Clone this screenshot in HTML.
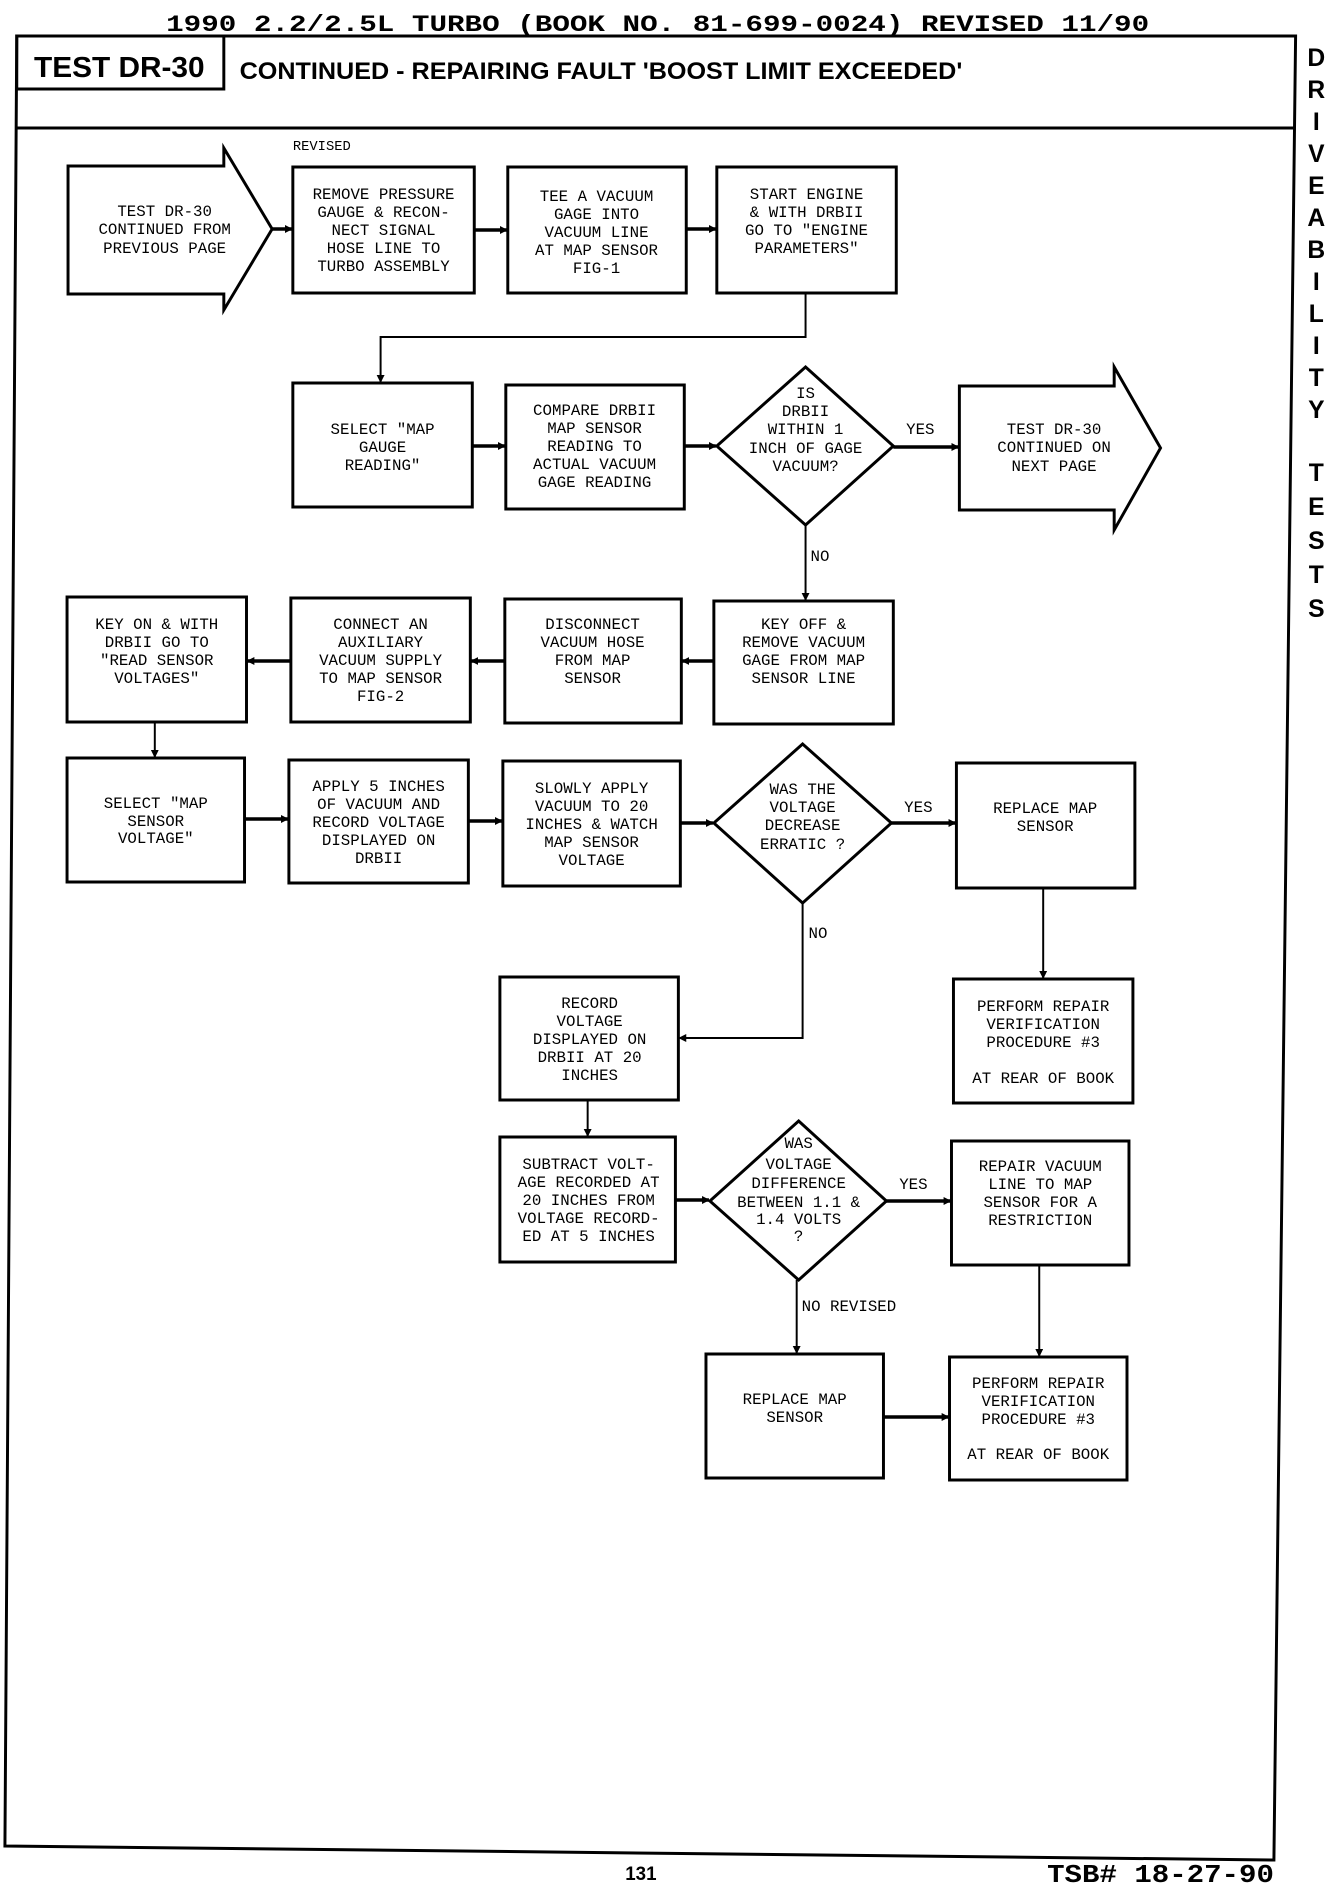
<!DOCTYPE html>
<html><head><meta charset="utf-8"><style>
html,body{margin:0;padding:0;background:#fff;}
svg{display:block;}
.t{font-family:"Liberation Mono",monospace;font-size:16px;fill:#000;text-anchor:middle;}
.b{fill:none;stroke:#000;stroke-width:3;}
.c{fill:none;stroke:#000;stroke-width:3.5;}
.v{fill:none;stroke:#000;stroke-width:2;}
.side{font-family:"Liberation Sans",sans-serif;font-weight:bold;font-size:25px;text-anchor:middle;fill:#000;}
</style></head><body>
<svg width="1344" height="1892" viewBox="0 0 1344 1892" xmlns="http://www.w3.org/2000/svg">
<defs>
<marker id="a" markerWidth="8" markerHeight="8" refX="7" refY="4" orient="auto" markerUnits="userSpaceOnUse"><path d="M0,0 L8,4 L0,8 z" fill="#000"/></marker>
</defs>
<g transform="scale(0.986 1)">
<text x="667" y="31" font-family="Liberation Mono,monospace" font-weight="bold" font-size="23" text-anchor="middle" textLength="997" lengthAdjust="spacingAndGlyphs">1990 2.2/2.5L TURBO (BOOK NO. 81-699-0024) REVISED 11/90</text>
<polygon points="17,36 1314,36 1292,1860 5,1846" fill="none" stroke="#000" stroke-width="3"/>
<rect x="17" y="36" width="210" height="53" class="b"/>
<line x1="17" y1="128" x2="1312" y2="128" stroke="#000" stroke-width="3"/>
<text x="121" y="77" font-family="Liberation Sans,sans-serif" font-weight="bold" font-size="29" text-anchor="middle" textLength="173" lengthAdjust="spacingAndGlyphs">TEST DR-30</text>
<text x="243" y="79" font-family="Liberation Sans,sans-serif" font-weight="bold" font-size="24" textLength="733" lengthAdjust="spacingAndGlyphs">CONTINUED - REPAIRING FAULT 'BOOST LIMIT EXCEEDED'</text>
<g class="side">
<text x="1335" y="66">D</text><text x="1335" y="98">R</text><text x="1335" y="130">I</text><text x="1335" y="162">V</text><text x="1335" y="194">E</text><text x="1335" y="226">A</text><text x="1335" y="258">B</text><text x="1335" y="290">I</text><text x="1335" y="322">L</text><text x="1335" y="354">I</text><text x="1335" y="386">T</text><text x="1335" y="418">Y</text>
<text x="1335" y="481">T</text><text x="1335" y="515">E</text><text x="1335" y="549">S</text><text x="1335" y="583">T</text><text x="1335" y="617">S</text>
</g>
<text x="297" y="150" class="t" style="text-anchor:start;font-size:14px">REVISED</text>

<path class="b" d="M69,166 L227,166 L227,148 L276,229 L227,310 L227,294 L69,294 Z"/>
<rect class="b" x="297" y="167" width="184" height="126"/>
<rect class="b" x="515" y="167" width="181" height="126"/>
<rect class="b" x="727" y="167" width="182" height="126"/>
<rect class="b" x="297" y="383" width="182" height="124"/>
<rect class="b" x="513" y="385" width="181" height="124"/>
<polygon class="b" points="817,367 906,446 817,525 727,446"/>
<path class="b" d="M973,386 L1130,386 L1130,367 L1177,448 L1130,530 L1130,510 L973,510 Z"/>
<rect class="b" x="68" y="597" width="182" height="125"/>
<rect class="b" x="295" y="598" width="182" height="124"/>
<rect class="b" x="512" y="599" width="179" height="124"/>
<rect class="b" x="724" y="601" width="182" height="123"/>
<rect class="b" x="68" y="758" width="180" height="124"/>
<rect class="b" x="293" y="760" width="182" height="123"/>
<rect class="b" x="510" y="761" width="180" height="125"/>
<polygon class="b" points="814,744 904,823 814,903 724,823"/>
<rect class="b" x="970" y="763" width="181" height="125"/>
<rect class="b" x="507" y="977" width="181" height="123"/>
<rect class="b" x="967" y="979" width="182" height="124"/>
<rect class="b" x="507" y="1137" width="178" height="125"/>
<polygon class="b" points="810,1121 899,1201 810,1280 720,1201"/>
<rect class="b" x="965" y="1141" width="180" height="124"/>
<rect class="b" x="716" y="1354" width="180" height="124"/>
<rect class="b" x="963" y="1357" width="180" height="123"/>

<g marker-end="url(#a)">
<line class="c" x1="276" y1="229" x2="296" y2="229"/>
<line class="c" x1="481" y1="230" x2="514" y2="230"/>
<line class="c" x1="696" y1="229" x2="726" y2="229"/>
<path class="v" d="M817,293 L817,337 L386,337 L386,382"/>
<line class="c" x1="479" y1="446" x2="512" y2="446"/>
<line class="c" x1="694" y1="446" x2="726" y2="446"/>
<line class="c" x1="906" y1="447" x2="972" y2="447"/>
<line class="v" x1="817" y1="525" x2="817" y2="600"/>
<line class="c" x1="724" y1="661" x2="692" y2="661"/>
<line class="c" x1="512" y1="661" x2="478" y2="661"/>
<line class="c" x1="295" y1="661" x2="251" y2="661"/>
<line class="v" x1="157" y1="722" x2="157" y2="757"/>
<line class="c" x1="248" y1="819" x2="292" y2="819"/>
<line class="c" x1="475" y1="821" x2="509" y2="821"/>
<line class="c" x1="690" y1="823" x2="723" y2="823"/>
<line class="c" x1="904" y1="823" x2="969" y2="823"/>
<path class="v" d="M814,903 L814,1038 L689,1038"/>
<line class="v" x1="1058" y1="888" x2="1058" y2="978"/>
<line class="v" x1="596" y1="1100" x2="596" y2="1136"/>
<line class="c" x1="685" y1="1200" x2="719" y2="1200"/>
<line class="c" x1="899" y1="1201" x2="964" y2="1201"/>
<line class="v" x1="808" y1="1280" x2="808" y2="1353"/>
<line class="v" x1="1054" y1="1265" x2="1054" y2="1356"/>
<line class="c" x1="896" y1="1417" x2="962" y2="1417"/>
</g>
<g class="t" style="text-anchor:start;font-size:16px">
<text x="919" y="434">YES</text>
<text x="822" y="561">NO</text>
<text x="917" y="812">YES</text>
<text x="820" y="938">NO</text>
<text x="912" y="1189">YES</text>
<text x="813" y="1311">NO REVISED</text>
</g>

<g class="t">
<text x="167" y="216">TEST DR-30</text><text x="167" y="234">CONTINUED FROM</text><text x="167" y="253">PREVIOUS PAGE</text>
<text x="389" y="199">REMOVE PRESSURE</text><text x="389" y="217">GAUGE &amp; RECON-</text><text x="389" y="235">NECT SIGNAL</text><text x="389" y="253">HOSE LINE TO</text><text x="389" y="271">TURBO ASSEMBLY</text>
<text x="605" y="201">TEE A VACUUM</text><text x="605" y="219">GAGE INTO</text><text x="605" y="237">VACUUM LINE</text><text x="605" y="255">AT MAP SENSOR</text><text x="605" y="273">FIG-1</text>
<text x="818" y="199">START ENGINE</text><text x="818" y="217">&amp; WITH DRBII</text><text x="818" y="235">GO TO "ENGINE</text><text x="818" y="253">PARAMETERS"</text>
<text x="388" y="434">SELECT "MAP</text><text x="388" y="452">GAUGE</text><text x="388" y="470">READING"</text>
<text x="603" y="415">COMPARE DRBII</text><text x="603" y="433">MAP SENSOR</text><text x="603" y="451">READING TO</text><text x="603" y="469">ACTUAL VACUUM</text><text x="603" y="487">GAGE READING</text>
<text x="817" y="398">IS</text><text x="817" y="416">DRBII</text><text x="817" y="434">WITHIN 1</text><text x="817" y="453">INCH OF GAGE</text><text x="817" y="471">VACUUM?</text>
<text x="1069" y="434">TEST DR-30</text><text x="1069" y="452">CONTINUED ON</text><text x="1069" y="471">NEXT PAGE</text>
<text x="159" y="629">KEY ON &amp; WITH</text><text x="159" y="647">DRBII GO TO</text><text x="159" y="665">"READ SENSOR</text><text x="159" y="683">VOLTAGES"</text>
<text x="386" y="629">CONNECT AN</text><text x="386" y="647">AUXILIARY</text><text x="386" y="665">VACUUM SUPPLY</text><text x="386" y="683">TO MAP SENSOR</text><text x="386" y="701">FIG-2</text>
<text x="601" y="629">DISCONNECT</text><text x="601" y="647">VACUUM HOSE</text><text x="601" y="665">FROM MAP</text><text x="601" y="683">SENSOR</text>
<text x="815" y="629">KEY OFF &amp;</text><text x="815" y="647">REMOVE VACUUM</text><text x="815" y="665">GAGE FROM MAP</text><text x="815" y="683">SENSOR LINE</text>
<text x="158" y="808">SELECT "MAP</text><text x="158" y="826">SENSOR</text><text x="158" y="843">VOLTAGE"</text>
<text x="384" y="791">APPLY 5 INCHES</text><text x="384" y="809">OF VACUUM AND</text><text x="384" y="827">RECORD VOLTAGE</text><text x="384" y="845">DISPLAYED ON</text><text x="384" y="863">DRBII</text>
<text x="600" y="793">SLOWLY APPLY</text><text x="600" y="811">VACUUM TO 20</text><text x="600" y="829">INCHES &amp; WATCH</text><text x="600" y="847">MAP SENSOR</text><text x="600" y="865">VOLTAGE</text>
<text x="814" y="794">WAS THE</text><text x="814" y="812">VOLTAGE</text><text x="814" y="830">DECREASE</text><text x="814" y="849">ERRATIC ?</text>
<text x="1060" y="813">REPLACE MAP</text><text x="1060" y="831">SENSOR</text>
<text x="598" y="1008">RECORD</text><text x="598" y="1026">VOLTAGE</text><text x="598" y="1044">DISPLAYED ON</text><text x="598" y="1062">DRBII AT 20</text><text x="598" y="1080">INCHES</text>
<text x="1058" y="1011">PERFORM REPAIR</text><text x="1058" y="1029">VERIFICATION</text><text x="1058" y="1047">PROCEDURE #3</text><text x="1058" y="1083">AT REAR OF BOOK</text>
<text x="597" y="1169">SUBTRACT VOLT-</text><text x="597" y="1187">AGE RECORDED AT</text><text x="597" y="1205">20 INCHES FROM</text><text x="597" y="1223">VOLTAGE RECORD-</text><text x="597" y="1241">ED AT 5 INCHES</text>
<text x="810" y="1148">WAS</text><text x="810" y="1169">VOLTAGE</text><text x="810" y="1188">DIFFERENCE</text><text x="810" y="1207">BETWEEN 1.1 &amp;</text><text x="810" y="1224">1.4 VOLTS</text><text x="810" y="1241">?</text>
<text x="1055" y="1171">REPAIR VACUUM</text><text x="1055" y="1189">LINE TO MAP</text><text x="1055" y="1207">SENSOR FOR A</text><text x="1055" y="1225">RESTRICTION</text>
<text x="806" y="1404">REPLACE MAP</text><text x="806" y="1422">SENSOR</text>
<text x="1053" y="1388">PERFORM REPAIR</text><text x="1053" y="1406">VERIFICATION</text><text x="1053" y="1424">PROCEDURE #3</text><text x="1053" y="1459">AT REAR OF BOOK</text>
</g>

<text x="650" y="1880" font-family="Liberation Sans,sans-serif" font-weight="bold" font-size="19" text-anchor="middle">131</text>
<text x="1177" y="1882" font-family="Liberation Mono,monospace" font-weight="bold" font-size="26" text-anchor="middle" textLength="230" lengthAdjust="spacingAndGlyphs">TSB# 18-27-90</text>
</g>
</svg>
</body></html>
